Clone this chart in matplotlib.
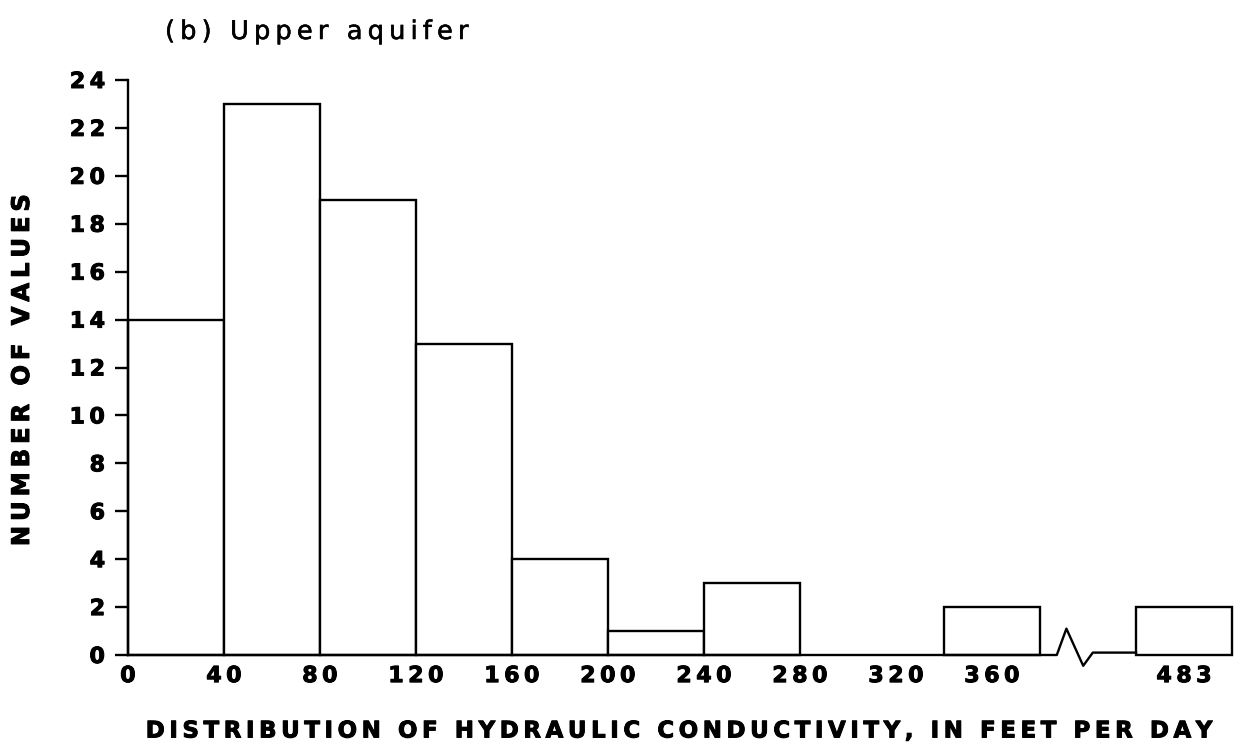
import matplotlib
matplotlib.use("Agg")
import matplotlib.pyplot as plt
import matplotlib.patheffects as pe

# ---- data ----
bin_left = [0, 40, 80, 120, 160, 200, 240, 340]
bin_right = [40, 80, 120, 160, 200, 240, 280, 380]
counts = [14, 23, 19, 13, 4, 1, 3, 2]
outlier_label = "483"
outlier_count = 2
x_ticks = [0, 40, 80, 120, 160, 200, 240, 280, 320, 360]
y_ticks = list(range(0, 25, 2))

plt.rcParams['font.family'] = ['DejaVu Sans']

SP = '\u2009'
def spaced(s, sp=SP):
    return sp.join(list(s))

heavy = [pe.withStroke(linewidth=0.7, foreground='black')]
medium = [pe.withStroke(linewidth=0.4, foreground='black')]

fig = plt.figure(figsize=(12.42, 7.5), dpi=100)
ax = fig.add_axes([128/1242, 1-655/750, 1104/1242, 575/750])

lw = 1.7
widths = [r - l for l, r in zip(bin_left, bin_right)]
ax.bar(bin_left, counts, width=widths, align='edge', facecolor='white',
       edgecolor='black', linewidth=lw, zorder=2, clip_on=False)

# outlier bar beyond the axis break
out_left = 420
out_w = 40
ax.bar([out_left], [outlier_count], width=out_w, align='edge', facecolor='white',
       edgecolor='black', linewidth=lw, zorder=2, clip_on=False)

# baseline with break symbol
bx = [0, 387, 391, 398, 402, 460]
by = [0, 0, 1.1, -0.45, 0.1, 0.1]
ax.plot(bx[:5] + [420], by[:5] + [0.1], color='black', lw=lw, clip_on=False, zorder=3)

ax.set_xlim(0, 460)
ax.set_ylim(0, 24)
for s in ['top', 'right', 'bottom']:
    ax.spines[s].set_visible(False)
ax.spines['left'].set_linewidth(lw)

ax.set_yticks(y_ticks)
ax.set_yticklabels([spaced(str(v)) for v in y_ticks], fontsize=16, fontweight='bold')
ax.tick_params(axis='y', length=9.5, width=lw, pad=7)

xt = x_ticks + [out_left + out_w / 2]
ax.set_xticks(xt)
ax.set_xticklabels([spaced(str(v)) for v in x_ticks] + [spaced(outlier_label)],
                   fontsize=16, fontweight='bold')
ax.tick_params(axis='x', length=0, pad=8)
for t in ax.get_xticklabels() + ax.get_yticklabels():
    t.set_path_effects(heavy)

fig.text(22/1242, 1-370/750, spaced("NUMBER OF VALUES"), fontsize=17.5,
         fontweight='bold', rotation=90, ha='center', va='center', path_effects=heavy)
fig.text(680/1242, 1-731/750,
         spaced("DISTRIBUTION OF HYDRAULIC CONDUCTIVITY, IN FEET PER DAY"),
         fontsize=16.5, fontweight='bold', ha='center', va='center', path_effects=heavy)

fig.text(165/1242, 1-32/750, spaced("(b) Upper aquifer"), fontsize=18.5,
         va='center', ha='left', path_effects=medium)

fig.savefig("out.png", dpi=100, facecolor='white')
